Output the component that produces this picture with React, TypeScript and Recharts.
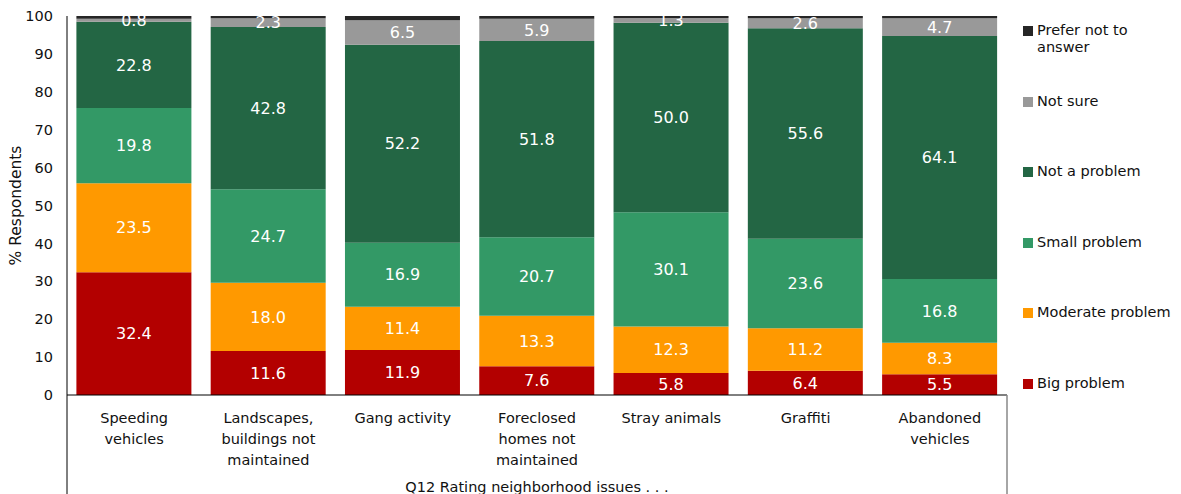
import { BarChart, Bar, XAxis, YAxis, LabelList } from 'recharts';

// categories (explicit line breaks match the reference wrapping)
const categories = [
  'Speeding\nvehicles',
  'Landscapes,\nbuildings not\nmaintained',
  'Gang activity',
  'Foreclosed\nhomes not\nmaintained',
  'Stray animals',
  'Graffiti',
  'Abandoned\nvehicles',
];

const bigProblem = [32.4, 11.6, 11.9, 7.6, 5.8, 6.4, 5.5];
const moderateProblem = [23.5, 18.0, 11.4, 13.3, 12.3, 11.2, 8.3];
const smallProblem = [19.8, 24.7, 16.9, 20.7, 30.1, 23.6, 16.8];
const notAProblem = [22.8, 42.8, 52.2, 51.8, 50.0, 55.6, 64.1];
const notSure = [0.8, 2.3, 6.5, 5.9, 1.3, 2.6, 4.7];
const preferNot = [0.7, 0.6, 1.1, 0.7, 0.5, 0.6, 0.6];

const yTicks = [0, 10, 20, 30, 40, 50, 60, 70, 80, 90, 100];

const data = categories.map((name, i) => ({
  name,
  big: bigProblem[i],
  moderate: moderateProblem[i],
  small: smallProblem[i],
  notProblem: notAProblem[i],
  notSure: notSure[i],
  prefer: preferNot[i],
}));

const series = [
  { key: 'big', label: 'Big problem', color: '#B30000', showLabel: true },
  { key: 'moderate', label: 'Moderate problem', color: '#FF9900', showLabel: true },
  { key: 'small', label: 'Small problem', color: '#339966', showLabel: true },
  { key: 'notProblem', label: 'Not a problem', color: '#236644', showLabel: true },
  { key: 'notSure', label: 'Not sure', color: '#999999', showLabel: true },
  { key: 'prefer', label: 'Prefer not to\nanswer', color: '#262626', showLabel: false },
];

const FONT = '"DejaVu Sans", sans-serif';
const W = 1181;
const H = 494;
const M = { top: 16, right: 174, bottom: 0, left: 0 };
const Y_W = 67;
const X_H = 99;

function CategoryTick({ x, y, payload }: any) {
  const lines = String(payload.value).split('\n');
  return (
    <text x={x} y={y + 20} textAnchor="middle" fontFamily={FONT} fontSize={14.5} fill="#111">
      {lines.map((l, i) => (
        <tspan key={i} x={x} dy={i === 0 ? 0 : 21}>
          {l}
        </tspan>
      ))}
    </text>
  );
}

function LegendBox() {
  const items = [...series].reverse();
  return (
    <div
      style={{
        position: 'absolute',
        left: 1023,
        top: 22,
        width: 158,
        fontFamily: FONT,
        fontSize: 14.5,
        color: '#111',
      }}
    >
      {items.map((s) => (
        <div key={s.key} style={{ height: 70.5, display: 'flex', alignItems: 'flex-start' }}>
          <span
            style={{
              display: 'inline-block',
              width: 10,
              height: 10,
              background: s.color,
              marginTop: 4,
              marginRight: 4,
              flex: 'none',
            }}
          />
          <span style={{ whiteSpace: 'pre', lineHeight: '17px' }}>{s.label}</span>
        </div>
      ))}
    </div>
  );
}

export default function App() {
  const plotLeft = M.left + Y_W;
  const plotRight = W - M.right;
  const plotBottom = H - M.bottom - X_H;

  return (
    <div style={{ position: 'absolute', left: 0, top: 0, width: W, height: H, background: '#fff' }}>
      <BarChart width={W} height={H} data={data} margin={M} barCategoryGap="7%">
        <XAxis
          dataKey="name"
          height={X_H}
          axisLine={{ stroke: '#000' }}
          tickLine={false}
          interval={0}
          tick={<CategoryTick />}
          label={{
            value: 'Q12 Rating neighborhood issues . . .',
            position: 'insideBottom',
            offset: 2,
            style: { fontFamily: FONT, fontSize: 14.5, fill: '#111' },
          }}
        />
        <YAxis
          width={Y_W}
          domain={[0, 100]}
          ticks={yTicks}
          interval={0}
          tickLine={false}
          tickMargin={8}
          axisLine={{ stroke: '#000' }}
          tick={{ fontFamily: FONT, fontSize: 14.5, fill: '#111' }}
          label={{
            value: '% Respondents',
            angle: -90,
            position: 'insideLeft',
            offset: 15,
            style: { fontFamily: FONT, fontSize: 15.5, fill: '#111', textAnchor: 'middle' },
          }}
        />
        {series.map((s) => (
          <Bar
            key={s.key}
            dataKey={s.key}
            stackId="a"
            fill={s.color}
            isAnimationActive={false}
          >
            {s.showLabel && (
              <LabelList
                dataKey={s.key}
                position="center"
                fill="#fff"
                fontFamily={FONT}
                fontSize={16}
                formatter={(v: any) => Number(v).toFixed(1)}
              />
            )}
          </Bar>
        ))}
      </BarChart>
      <LegendBox />
      {/* category box lines below the axis */}
      <svg
        width={W}
        height={H}
        style={{ position: 'absolute', left: 0, top: 0, pointerEvents: 'none' }}
      >
        <line x1={plotLeft} y1={plotBottom} x2={plotLeft} y2={H} stroke="#000" strokeWidth={1} />
        <line x1={plotRight} y1={plotBottom} x2={plotRight} y2={H} stroke="#888" strokeWidth={1.5} />
      </svg>
    </div>
  );
}
